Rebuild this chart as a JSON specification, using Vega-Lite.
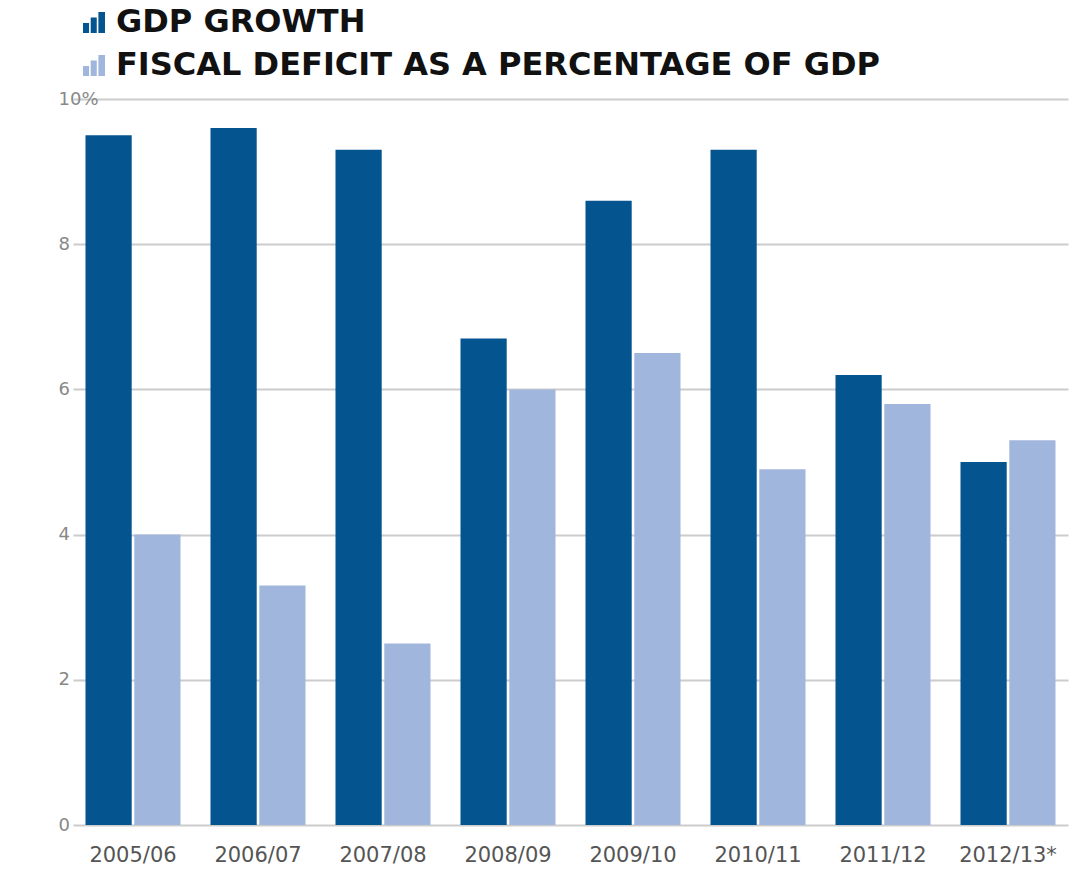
{
  "$schema": "https://vega.github.io/schema/vega-lite/v6.json",
  "autosize": {"type": "none"},
  "width": 995,
  "height": 726,
  "padding": {"left": 73, "top": 99, "right": 13, "bottom": 45},
  "background": "white",
  "data": {
    "values": [
      {"year": "2005/06", "series": "GDP GROWTH", "value": 9.5},
      {"year": "2006/07", "series": "GDP GROWTH", "value": 9.6},
      {"year": "2007/08", "series": "GDP GROWTH", "value": 9.3},
      {"year": "2008/09", "series": "GDP GROWTH", "value": 6.7},
      {"year": "2009/10", "series": "GDP GROWTH", "value": 8.6},
      {"year": "2010/11", "series": "GDP GROWTH", "value": 9.3},
      {"year": "2011/12", "series": "GDP GROWTH", "value": 6.2},
      {"year": "2012/13*", "series": "GDP GROWTH", "value": 5.0},
      {"year": "2005/06", "series": "FISCAL DEFICIT AS A PERCENTAGE OF GDP", "value": 4.0},
      {"year": "2006/07", "series": "FISCAL DEFICIT AS A PERCENTAGE OF GDP", "value": 3.3},
      {"year": "2007/08", "series": "FISCAL DEFICIT AS A PERCENTAGE OF GDP", "value": 2.5},
      {"year": "2008/09", "series": "FISCAL DEFICIT AS A PERCENTAGE OF GDP", "value": 6.0},
      {"year": "2009/10", "series": "FISCAL DEFICIT AS A PERCENTAGE OF GDP", "value": 6.5},
      {"year": "2010/11", "series": "FISCAL DEFICIT AS A PERCENTAGE OF GDP", "value": 4.9},
      {"year": "2011/12", "series": "FISCAL DEFICIT AS A PERCENTAGE OF GDP", "value": 5.8},
      {"year": "2012/13*", "series": "FISCAL DEFICIT AS A PERCENTAGE OF GDP", "value": 5.3}
    ]
  },
  "mark": {"type": "bar"},
  "encoding": {
    "x": {
      "field": "year",
      "type": "nominal",
      "sort": null,
      "scale": {"paddingInner": 0.24, "paddingOuter": 0.1},
      "axis": {
        "title": null,
        "labelAngle": 0,
        "domain": false,
        "ticks": false,
        "labelPadding": 19,
        "labelFont": "DejaVu Sans",
        "labelFontSize": 21,
        "labelColor": "#555555"
      }
    },
    "xOffset": {
      "field": "series",
      "type": "nominal",
      "sort": ["GDP GROWTH", "FISCAL DEFICIT AS A PERCENTAGE OF GDP"],
      "scale": {"paddingInner": 0.053}
    },
    "y": {
      "field": "value",
      "type": "quantitative",
      "scale": {"domain": [0, 10], "nice": false},
      "axis": {
        "title": null,
        "values": [0, 2, 4, 6, 8, 10],
        "labelExpr": "datum.value == 10 ? '10%' : datum.label",
        "domain": false,
        "ticks": false,
        "labelAlign": "left",
        "labelPadding": 15,
        "labelFont": "DejaVu Sans",
        "labelFontSize": 18,
        "labelColor": "#888888",
        "gridColor": "#cccccc",
        "gridWidth": 2
      }
    },
    "color": {
      "field": "series",
      "type": "nominal",
      "sort": ["GDP GROWTH", "FISCAL DEFICIT AS A PERCENTAGE OF GDP"],
      "scale": {
        "domain": ["GDP GROWTH", "FISCAL DEFICIT AS A PERCENTAGE OF GDP"],
        "range": ["#04558f", "#a1b6dc"]
      },
      "legend": {
        "title": null,
        "orient": "none",
        "legendX": 5,
        "legendY": -93,
        "direction": "vertical",
        "rowPadding": 11,
        "symbolType": "M-1,1L-1,0.1L-0.45,0.1L-0.45,1ZM-0.3,1L-0.3,-0.4L0.25,-0.4L0.25,1ZM0.4,1L0.4,-0.9L1,-0.9L1,1Z",
        "symbolSize": 484,
        "symbolStrokeWidth": 0,
        "labelFont": "DejaVu Sans",
        "labelFontWeight": "bold",
        "labelFontSize": 32,
        "labelColor": "#111111",
        "labelOffset": 6,
        "labelLimit": 1000
      }
    }
  },
  "config": {"view": {"stroke": null}}
}
